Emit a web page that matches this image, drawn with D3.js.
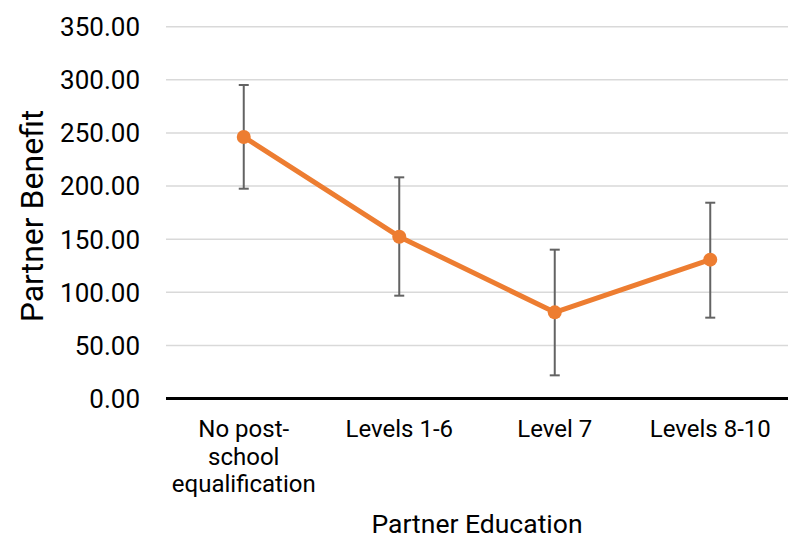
<!DOCTYPE html>
<html>
<head>
<meta charset="utf-8">
<script src="https://cdn.jsdelivr.net/npm/d3@7"></script>
<style>
  body { margin: 0; background: #fff; }
  text { font-family: Roboto, "Noto Sans", sans-serif; fill: #000; }
</style>
</head>
<body>
<script>
// data
var categories = [["No post-", "school", "equalification"], ["Levels 1-6"], ["Level 7"], ["Levels 8-10"]];
var values = [246.2, 152.3, 81.1, 130.7];
var errUpper = [295.1, 208.2, 140.1, 184.3];
var errLower = [197.5, 96.8, 21.8, 76.1];
var yTicks = [0, 50, 100, 150, 200, 250, 300, 350];

var width = 793, height = 548;
var margin = {left: 166, right: 5, top: 26.7, bottom: 149.5};

var svg = d3.select("body").append("svg")
    .attr("width", width)
    .attr("height", height);

var x = d3.scaleBand()
    .domain(d3.range(categories.length))
    .range([margin.left, width - margin.right]);

var y = d3.scaleLinear()
    .domain([0, 350])
    .range([height - margin.bottom, margin.top]);

// gridlines
svg.append("g")
  .selectAll("line")
  .data(yTicks.filter(d => d > 0))
  .enter()
  .append("line")
    .attr("x1", x.range()[0])
    .attr("x2", x.range()[1])
    .attr("y1", d => y(d))
    .attr("y2", d => y(d))
    .attr("stroke", "#d9d9d9")
    .attr("stroke-width", 1.5);

// y tick labels
svg.append("g")
  .selectAll("text")
  .data(yTicks)
  .enter()
  .append("text")
    .attr("x", 140)
    .attr("y", d => y(d))
    .attr("dy", "0.36em")
    .attr("text-anchor", "end")
    .style("font-size", "26px")
    .text(d => d3.format(".2f")(d));

// x axis line
svg.append("line")
    .attr("x1", x.range()[0])
    .attr("x2", x.range()[1])
    .attr("y1", y(0))
    .attr("y2", y(0))
    .attr("stroke", "#000")
    .attr("stroke-width", 3);

// category labels
var cat = svg.append("g")
  .selectAll("text")
  .data(categories)
  .enter()
  .append("text")
    .attr("text-anchor", "middle")
    .style("font-size", "24px")
    .attr("transform", (d, i) => "translate(" + (x(i) + x.bandwidth() / 2) + ",437)");
cat.selectAll("tspan")
  .data(d => d)
  .enter()
  .append("tspan")
    .attr("x", 0)
    .attr("dy", (d, i) => i == 0 ? 0 : 27.5)
    .text(d => d);

// axis titles
svg.append("text")
    .attr("x", x.range()[0] + (x.range()[1] - x.range()[0]) / 2)
    .attr("y", 533)
    .attr("text-anchor", "middle")
    .style("font-size", "26.5px")
    .text("Partner Education");

svg.append("text")
    .attr("transform", "translate(43,216) rotate(-90)")
    .attr("text-anchor", "middle")
    .style("font-size", "32px")
    .text("Partner Benefit");

var cx = i => x(i) + x.bandwidth() / 2;

// error bars
var eb = svg.append("g")
    .attr("stroke", "#636363")
    .attr("stroke-width", 2)
  .selectAll("g")
  .data(values)
  .enter()
  .append("g");
eb.append("line")
    .attr("x1", (d, i) => cx(i)).attr("x2", (d, i) => cx(i))
    .attr("y1", (d, i) => y(errUpper[i])).attr("y2", (d, i) => y(errLower[i]));
eb.append("line")
    .attr("x1", (d, i) => cx(i) - 5).attr("x2", (d, i) => cx(i) + 5)
    .attr("y1", (d, i) => y(errUpper[i])).attr("y2", (d, i) => y(errUpper[i]));
eb.append("line")
    .attr("x1", (d, i) => cx(i) - 5).attr("x2", (d, i) => cx(i) + 5)
    .attr("y1", (d, i) => y(errLower[i])).attr("y2", (d, i) => y(errLower[i]));

// line + markers
var line = d3.line()
    .x((d, i) => cx(i))
    .y(d => y(d));

svg.append("path")
    .datum(values)
    .attr("d", line)
    .attr("fill", "none")
    .attr("stroke", "#ed7d31")
    .attr("stroke-width", 5)
    .attr("stroke-linejoin", "round");

svg.append("g")
  .selectAll("circle")
  .data(values)
  .enter()
  .append("circle")
    .attr("cx", (d, i) => cx(i))
    .attr("cy", d => y(d))
    .attr("r", 7)
    .attr("fill", "#ed7d31");
</script>
</body>
</html>
